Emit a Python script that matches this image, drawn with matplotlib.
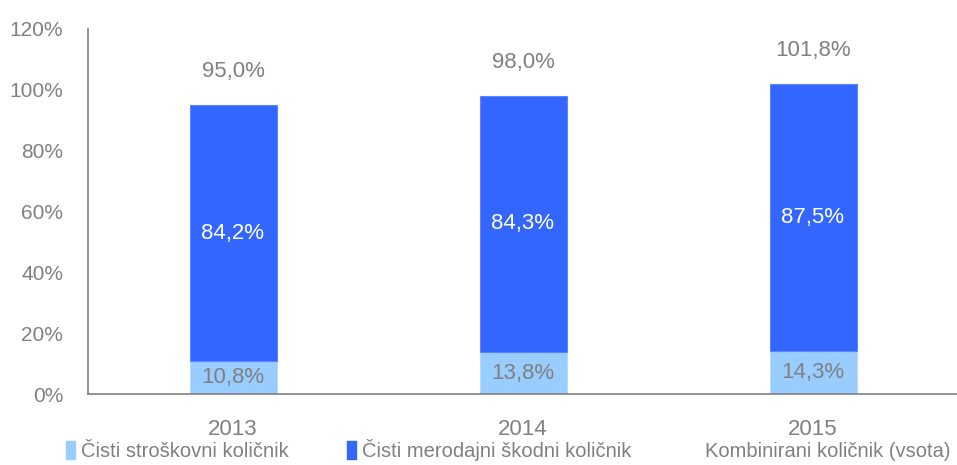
import numpy as np
import matplotlib
matplotlib.use('Agg')
import matplotlib.pyplot as plt
from matplotlib.patches import Patch
from matplotlib.lines import Line2D

plt.rcParams['font.family'] = ['Liberation Sans', 'DejaVu Sans']

years = ['2013', '2014', '2015']
stroskovni = [10.8, 13.8, 14.3]
skodni = [84.2, 84.3, 87.5]
kombinirani = [95.0, 98.0, 101.8]
labels = ['Čisti stroškovni količnik', 'Čisti merodajni škodni količnik', 'Kombinirani količnik (vsota)']

gray = '#808080'
light = '#99CCFF'
blue = '#3366FF'

fig = plt.figure(figsize=(9.57, 4.65), dpi=100)
ax = fig.add_axes([88/957, 1-394/465, 870/957, 365/465])

x = np.arange(len(years))
w = 0.3
ax.bar(x, stroskovni, w, color=light, edgecolor='#B8DCFF', linewidth=0.8)
ax.bar(x, skodni, w, bottom=stroskovni, color=blue, edgecolor='#5C85FF', linewidth=0.8)

def fmt(v):
    return f'{v:.1f}%'.replace('.', ',')

for i in range(len(years)):
    ax.text(x[i], stroskovni[i] / 2, fmt(stroskovni[i]), ha='center', va='center', color=gray, fontsize=16)
    ax.text(x[i], stroskovni[i] + skodni[i] / 2, fmt(skodni[i]), ha='center', va='center', color='white', fontsize=16)
    ax.text(x[i], kombinirani[i] + 11, fmt(kombinirani[i]), ha='center', va='center', color=gray, fontsize=16)

ax.set_xlim(-0.5, 2.5)
ax.set_ylim(0, 120)
ax.set_yticks(np.arange(0, 121, 20))
ax.set_yticklabels([f'{v}%' for v in range(0, 121, 20)])
ax.set_xticks(x)
ax.set_xticklabels(years)
for s in ['top', 'right']:
    ax.spines[s].set_visible(False)
for s in ['left', 'bottom']:
    ax.spines[s].set_color(gray)
    ax.spines[s].set_linewidth(1.2)
ax.tick_params(axis='both', length=0, colors=gray, labelsize=16)
ax.tick_params(axis='x', pad=18)
ax.tick_params(axis='y', labelsize=15, pad=18)

handles = [Patch(color=light), Patch(color=blue), Line2D([], [], color='none')]
fig.legend(handles, labels, loc='center left', bbox_to_anchor=(66/957, 1-450/465), ncol=3, frameon=False,
           fontsize=14.5, labelcolor=gray, handlelength=0.45, handleheight=1.0, handletextpad=0.3,
           columnspacing=2.9, borderpad=0, borderaxespad=0)

fig.savefig('out.png', dpi=100)
